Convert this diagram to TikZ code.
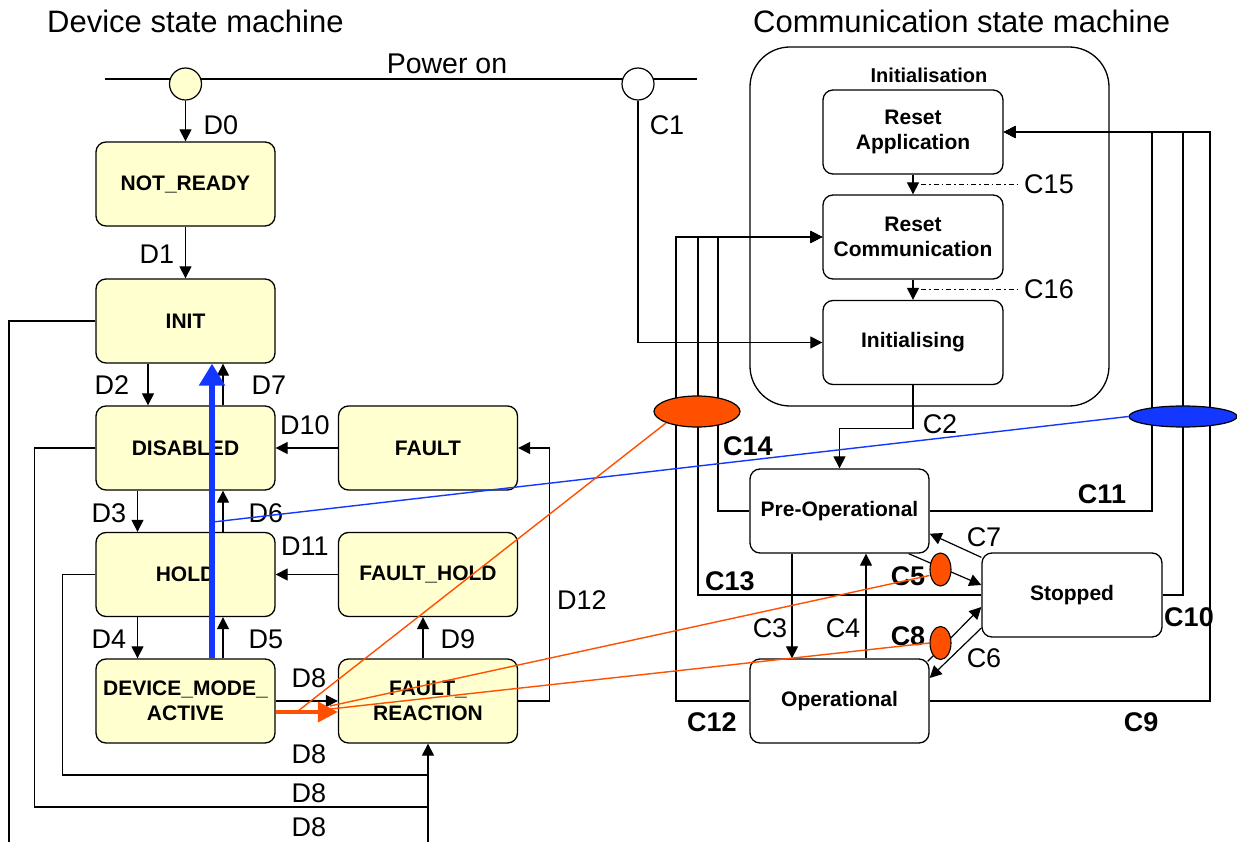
\documentclass[tikz,border=0pt]{standalone}
\usepackage{fontspec}
\setmainfont{Liberation Sans}
\usetikzlibrary{arrows.meta,shapes.geometric,calc}
\definecolor{boxy}{RGB}{255,255,208}
\definecolor{org}{RGB}{255,80,0}
\definecolor{blu}{RGB}{20,55,255}
\begin{document}
\begin{tikzpicture}[x=1pt,y=-1pt,
 every node/.style={inner sep=0pt},
 dstate/.style={draw=black, line width=1.3pt, rounded corners=10pt, fill=boxy, minimum width=179pt, minimum height=84pt, align=center, font=\fontsize{21}{25}\selectfont\bfseries},
 cstate/.style={dstate, fill=white, minimum width=180pt},
 lbl/.style={font=\fontsize{27}{30}\selectfont},
 blbl/.style={font=\fontsize{27}{30}\selectfont\bfseries},
 ttl/.style={font=\fontsize{31}{34}\selectfont},
 conn/.style={line width=1.2pt, draw=black},
 arr/.style={conn, -{Triangle[length=12pt,width=12pt]}},
 dd/.style={draw=black, line width=0.9pt, dash pattern=on 5pt off 3pt on 1.5pt off 3pt},
 oline/.style={draw=org, line width=1.4pt},
 bline/.style={draw=blu, line width=1.4pt},
 smell/.style={ellipse, draw=black, line width=1.1pt, fill=org, minimum width=21pt, minimum height=33pt},
]
\useasboundingbox (0,0) rectangle (1237,842);
\fill[white] (0,0) rectangle (1237,842);

% titles
\node[ttl, anchor=west] (t1) at (47,21) {Device state machine};
\node[ttl, anchor=west] (t2) at (753,21) {Communication state machine};
\node[font=\fontsize{28.5}{30}\selectfont] (pwr) at (447,64) {Power on};

% power line
\coordinate (pwL) at (105,79);
\coordinate (pwR) at (697,79);
\draw[conn] (pwL) -- (pwR);
\node[circle, draw, line width=1.2pt, fill=boxy, minimum size=32pt] (pl) at (185.5,84) {};
\node[circle, draw, line width=1.2pt, fill=white, minimum size=32pt] (pr) at (638,84) {};

% device states
\node[dstate] (notready) at (185.5,184) {NOT\_READY};
\node[dstate] (init) at (185.5,321) {INIT};
\node[dstate] (disabled) at (185.5,448) {DISABLED};
\node[dstate] (hold) at (185.5,574.5) {HOLD};
\node[dstate] (dma) at (185.5,701) {DEVICE\_MODE\_\\ACTIVE};
\node[dstate] (fault) at (428,448) {FAULT};
\node[dstate] (faulthold) at (428,574.5) {FAULT\_HOLD};
\node[dstate] (faultreact) at (428,701) {FAULT\_\\REACTION};

% container
\node[draw, line width=1.3pt, rounded corners=40pt, minimum width=359pt, minimum height=359pt] (cont) at (929.5,226.5) {};
\node[font=\fontsize{20}{24}\selectfont\bfseries] (contlbl) at (929,75) {Initialisation};

% communication states
\node[cstate] (resetapp) at (913,132) {Reset\\Application};
\node[cstate] (resetcomm) at (913,237) {Reset\\Communication};
\node[cstate] (initialising) at (913,342.5) {Initialising};
\node[cstate, minimum width=179pt] (preop) at (839.5,511) {Pre-Operational};
\node[cstate, minimum width=179pt] (op) at (839.5,701) {Operational};
\node[cstate] (stopped) at (1072,595) {Stopped};

% device connectors
\draw[arr] (pl) -- (notready);
\draw[arr] (notready) -- (init);
\draw[arr] ([xshift=-37.5pt]init.south) -- ([xshift=-37.5pt]disabled.north);
\draw[arr] ([xshift=37.5pt]disabled.north) -- ([xshift=37.5pt]init.south);
\draw[arr] ([xshift=-48pt]disabled.south) -- ([xshift=-48pt]hold.north);
\draw[arr] ([xshift=37.5pt]hold.north) -- ([xshift=37.5pt]disabled.south);
\draw[arr] ([xshift=-48pt]hold.south) -- ([xshift=-48pt]dma.north);
\draw[arr] ([xshift=37.5pt]dma.north) -- ([xshift=37.5pt]hold.south);
\draw[arr] (fault.west) -- (disabled.east);
\draw[arr] (faulthold.west) -- (hold.east);
\draw[arr] ([xshift=-5pt]faultreact.north) -- ([xshift=-5pt]faulthold.south);
\draw[arr] (dma.east) -- (faultreact.west);
\draw[arr] (faultreact.east) -- ++(31,0) |- (fault.east);
\coordinate (j1) at (428,775);
\coordinate (j2) at (428,807);
\coordinate (b1) at (9,842);
\coordinate (b2) at (428,842);
\draw[conn] (hold.west) -- ++(-33,0) |- (j1);
\draw[conn] (disabled.west) -- ++(-61,0) |- (j2);
\draw[conn] (init.west) -| (b1);
\draw[arr] (b2) -- (faultreact.south);

% device labels
\node[lbl] (lD0) at (221,125) {D0};
\node[lbl] (lD1) at (157,254) {D1};
\node[lbl] (lD2) at (112,385) {D2};
\node[lbl] (lD7) at (269,385) {D7};
\node[lbl] (lD10) at (305,425) {D10};
\node[lbl] (lD3) at (109,513) {D3};
\node[lbl] (lD6) at (266,513) {D6};
\node[lbl] (lD11) at (305,546) {D11};
\node[lbl] (lD4) at (109,639) {D4};
\node[lbl] (lD5) at (266,639) {D5};
\node[lbl] (lD9) at (458,639) {D9};
\node[lbl] (lD12) at (582,600) {D12};
\node[lbl] (lD8a) at (309,678) {D8};
\node[lbl] (lD8b) at (309,754) {D8};
\node[lbl] (lD8c) at (309,793) {D8};
\node[lbl] (lD8d) at (309,827) {D8};

% communication connectors
\draw[arr] (pr.south) |- (initialising.west);
\draw[arr] (resetapp.south) -- (resetcomm.north);
\draw[arr] (resetcomm.south) -- (initialising.north);
\coordinate (c15a) at (921,184);
\coordinate (c15b) at (1017,184);
\coordinate (c16a) at (921,289);
\coordinate (c16b) at (1017,289);
\draw[dd] (c15a) -- (c15b);
\draw[dd] (c16a) -- (c16b);
\coordinate (x12) at (676,400);
\coordinate (x13) at (698,400);
\coordinate (x14) at (718,400);
\coordinate (x11) at (1152,300);
\coordinate (x10) at (1183,300);
\coordinate (x9) at (1210,300);
\draw[arr] (op.west) -| (x12) |- (resetcomm.west);
\draw[arr] (stopped.west) -| (x13) |- (resetcomm.west);
\draw[arr] (preop.west) -| (x14) |- (resetcomm.west);
\draw[arr] (preop.east) -| (x11) |- (resetapp.east);
\draw[arr] (stopped.east) -| (x10) |- (resetapp.east);
\draw[arr] (op.east) -| (x9) |- (resetapp.east);
\draw[arr] (initialising.south) -- ++(0,43) -| (preop.north);
\draw[arr] ([xshift=-47.5pt]preop.south) -- ([xshift=-47.5pt]op.north);
\draw[arr] ([xshift=26.5pt]op.north) -- ([xshift=26.5pt]preop.south);
\draw[arr] ([xshift=-21pt]preop.south east) -- ([yshift=10pt]stopped.west);
\draw[arr] ([yshift=-5pt]stopped.north west) -- ([yshift=20pt]preop.south east);
\draw[arr] ([xshift=-2pt,yshift=-3pt]op.north east) -- ([yshift=-12pt]stopped.west);
\draw[arr] ([yshift=-33pt]stopped.west) -- ([yshift=23pt]op.east);

% ellipses
\node[ellipse, draw=black, line width=1.2pt, fill=org, minimum width=86pt, minimum height=31pt] (oell) at (697,411.5) {};
\node[ellipse, draw=black, line width=1.2pt, fill=blu, minimum width=108pt, minimum height=21pt] (bell) at (1183,416.5) {};
\node[smell] (c5ell) at (940.5,569.5) {};
\node[smell] (c8ell) at (940.5,643) {};

% communication labels
\node[lbl] (lC1) at (667,125) {C1};
\node[lbl] (lC15) at (1049,184) {C15};
\node[lbl] (lC16) at (1049,289) {C16};
\node[lbl] (lC2) at (940,424) {C2};
\node[blbl] (lC14) at (748,446) {C14};
\node[blbl] (lC11) at (1102,494) {C11};
\node[lbl] (lC7) at (984,537) {C7};
\node[blbl] (lC5) at (908,576) {C5};
\node[blbl] (lC13) at (730,581) {C13};
\node[blbl] (lC10) at (1189,617) {C10};
\node[lbl] (lC3) at (770,628) {C3};
\node[lbl] (lC4) at (843,628) {C4};
\node[blbl] (lC8) at (908,636) {C8};
\node[lbl] (lC6) at (984,658) {C6};
\node[blbl] (lC12) at (712,722) {C12};
\node[blbl] (lC9) at (1141,722) {C9};

% highlighted transitions
\draw[blu, line width=6pt, -{Triangle[length=22pt,width=25pt]}] ([xshift=26.5pt]dma.north) -- ([xshift=26.5pt]init.south);
\draw[org, line width=4pt, -{Triangle[length=20pt,width=20pt]}] ([yshift=-11pt]dma.east) -- ([yshift=-11pt]faultreact.west);
\coordinate (bj) at (213,522);
\coordinate (oj1) at (298,711);
\coordinate (oj2) at (330,706);
\coordinate (oj3) at (330,709);
\draw[bline] (bell.west) -- (bj);
\draw[oline] (oell.south west) -- (oj1);
\draw[oline] ([yshift=-6pt]c5ell.west) -- (oj2);
\draw[oline] (c8ell.west) -- (oj3);
\end{tikzpicture}
\end{document}
